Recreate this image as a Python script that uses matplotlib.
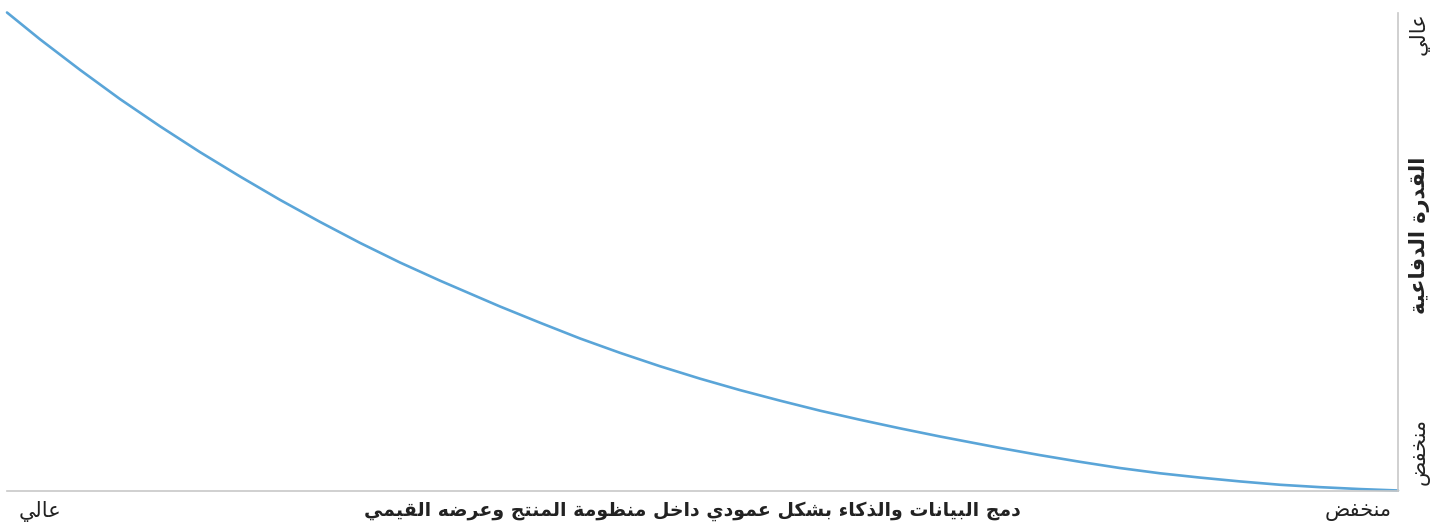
import matplotlib
matplotlib.use("Agg")
import matplotlib.pyplot as plt

# curve (x: 0 = left edge, 1 = right edge; y: 0 = bottom, 1 = top)
curve_x = [0.0, 0.0237, 0.0525, 0.0812, 0.110, 0.1387, 0.1675, 0.1963, 0.225, 0.2538,
           0.2825, 0.3113, 0.340, 0.3544, 0.3832, 0.412, 0.4407, 0.4694, 0.4982, 0.527,
           0.5557, 0.5845, 0.6132, 0.642, 0.6707, 0.7139, 0.7426, 0.7714, 0.8001, 0.8289,
           0.8577, 0.8864, 0.9152, 0.9439, 0.9727, 1.0]
curve_y = [1.0, 0.944, 0.880, 0.819, 0.762, 0.708, 0.657, 0.608, 0.562, 0.518,
           0.477, 0.439, 0.403, 0.385, 0.351, 0.318, 0.288, 0.260, 0.234, 0.210,
           0.188, 0.167, 0.148, 0.130, 0.113, 0.089, 0.074, 0.060, 0.047, 0.036,
           0.027, 0.019, 0.012, 0.007, 0.003, 0.0]

x_title = "دمج البيانات والذكاء بشكل عمودي داخل منظومة المنتج وعرضه القيمي"
y_title = "القدرة الدفاعية"
x_low_label = "منخفض"
x_high_label = "عالي"
y_low_label = "منخفض"
y_high_label = "عالي"

# matplotlib does no arabic shaping, so pick presentation forms by hand
# letter -> (isolated form, joining type)
forms = {
    "ء": (0xFE80, "U"), "ا": (0xFE8D, "R"), "ب": (0xFE8F, "D"), "ة": (0xFE93, "R"),
    "ت": (0xFE95, "D"), "ج": (0xFE9D, "D"), "خ": (0xFEA5, "D"), "د": (0xFEA9, "R"),
    "ذ": (0xFEAB, "R"), "ر": (0xFEAD, "R"), "ش": (0xFEB5, "D"), "ض": (0xFEBD, "D"),
    "ظ": (0xFEC5, "D"), "ع": (0xFEC9, "D"), "ف": (0xFED1, "D"), "ق": (0xFED5, "D"),
    "ك": (0xFED9, "D"), "ل": (0xFEDD, "D"), "م": (0xFEE1, "D"), "ن": (0xFEE5, "D"),
    "ه": (0xFEE9, "D"), "و": (0xFEED, "R"), "ي": (0xFEF1, "D"),
}


def shape(text):
    out = []
    n = len(text)
    for i, ch in enumerate(text):
        if ch not in forms:
            out.append(ch)
            continue
        code, kind = forms[ch]
        prev = text[i - 1] if i > 0 else None
        nxt = text[i + 1] if i < n - 1 else None
        join_prev = kind in "DR" and prev in forms and forms[prev][1] == "D"
        join_next = kind == "D" and nxt in forms and forms[nxt][1] in "DR"
        if join_prev and join_next:
            code += 3
        elif join_prev:
            code += 1
        elif join_next:
            code += 2
        out.append(chr(code))
    return "".join(out)[::-1]


plt.rcParams["font.family"] = ["DejaVu Sans"]

fig = plt.figure(figsize=(14.4, 5.22), dpi=100)
ax = fig.add_axes([7 / 1440, 31.5 / 522, 1391 / 1440, 478 / 522])

ax.plot(curve_x, curve_y, color="#5aa5d8", lw=1.9, solid_capstyle="round",
        solid_joinstyle="round", clip_on=False)
ax.set_xlim(0, 1)
ax.set_ylim(0, 1)
ax.set_xticks([])
ax.set_yticks([])
for side in ["left", "top"]:
    ax.spines[side].set_visible(False)
ax.spines["bottom"].set_color("#c8c8c8")
ax.spines["right"].set_color("#c8c8c8")
ax.spines["bottom"].set_linewidth(1.2)
ax.spines["right"].set_linewidth(1.2)

txt = "#222222"
fs = 15
ax.text(0.008, -0.021, shape(x_high_label), transform=ax.transAxes, ha="left", va="top",
        fontsize=fs, color=txt)
ax.text(0.9955, -0.021, shape(x_low_label), transform=ax.transAxes, ha="right", va="top",
        fontsize=fs, color=txt)
ax.text(0.4925, -0.022, shape(x_title), transform=ax.transAxes, ha="center", va="top",
        fontsize=13.6, color=txt, fontweight="bold")

ax.text(1.0155, 1.0, shape(y_high_label), transform=ax.transAxes, ha="center", va="top",
        rotation=90, fontsize=fs, color=txt)
ax.text(1.0155, 0.012, shape(y_low_label), transform=ax.transAxes, ha="center", va="bottom",
        rotation=90, fontsize=fs, color=txt)
ax.text(1.0155, 0.534, shape(y_title), transform=ax.transAxes, ha="center", va="center",
        rotation=90, fontsize=15, color=txt, fontweight="bold")

fig.savefig("out.png", dpi=100)
